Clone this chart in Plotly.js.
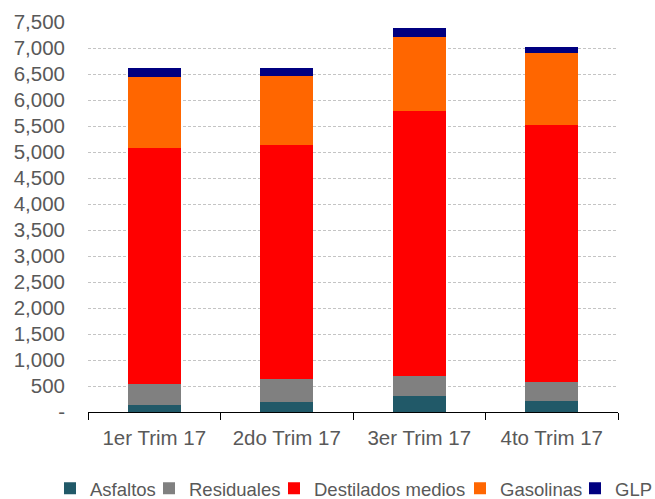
<!DOCTYPE html>
<html>
<head>
<meta charset="utf-8">
<script src="https://cdn.plot.ly/plotly-3.0.1.min.js"></script>
<style>html,body{margin:0;padding:0;background:#fff;}#chart{width:655px;height:499px;}</style>
</head>
<body>
<div id="chart"></div>
<script>
const categories = ["1er Trim 17", "2do Trim 17", "3er Trim 17", "4to Trim 17"];
const asfaltos = [129, 192, 302, 212];
const residuales = [417, 437, 390, 373];
const destilados = [4525, 4500, 5091, 4934];
const gasolinas = [1379, 1340, 1423, 1385];
const glp = [173, 154, 179, 109];
const yTickVals = [0, 500, 1000, 1500, 2000, 2500, 3000, 3500, 4000, 4500, 5000, 5500, 6000, 6500, 7000, 7500];
const yTickText = ["-", "500", "1,000", "1,500", "2,000", "2,500", "3,000", "3,500", "4,000", "4,500", "5,000", "5,500", "6,000", "6,500", "7,000", "7,500"];

const series = [
  {name: "Asfaltos", y: asfaltos, color: "#215968", lw: 54},
  {name: "Residuales", y: residuales, color: "#808080", lw: 80},
  {name: "Destilados medios", y: destilados, color: "#FF0000", lw: 141},
  {name: "Gasolinas", y: gasolinas, color: "#FF6600", lw: 70},
  {name: "GLP", y: glp, color: "#000080", lw: 40}
];

const traces = series.map(s => ({
  type: "bar",
  name: s.name,
  x: categories,
  y: s.y,
  legendwidth: s.lw,
  marker: {color: s.color, line: {width: 0}},
  hoverinfo: "x+y+name"
}));

const layout = {
  width: 655,
  height: 499,
  margin: {l: 88, r: 37, t: 22, b: 87, autoexpand: false},
  barmode: "stack",
  bargap: 0.6,
  paper_bgcolor: "#ffffff",
  plot_bgcolor: "#ffffff",
  font: {family: "Liberation Sans, Arial, sans-serif", size: 19, color: "#595959"},
  showlegend: true,
  legend: {
    orientation: "h",
    x: -0.0717, xanchor: "left",
    y: -0.197, yanchor: "middle",
    traceorder: "normal",
    itemwidth: 30,
    font: {size: 18.5, color: "#595959"}
  },
  xaxis: {
    type: "category",
    showline: true,
    linecolor: "#000000",
    linewidth: 1,
    ticks: "outside",
    tickson: "boundaries",
    ticklen: 7,
    tickcolor: "#000000",
    showgrid: false,
    tickfont: {size: 20.5, color: "#595959"},
    ticklabelstandoff: 7
  },
  yaxis: {
    range: [0, 7500],
    tickvals: yTickVals,
    ticktext: yTickText,
    showline: false,
    zeroline: false,
    showgrid: true,
    gridcolor: "#c4c4c4",
    griddash: "3px,2px",
    gridwidth: 1,
    ticks: "",
    tickfont: {size: 20.5, color: "#595959"},
    ticklabelstandoff: 22
  }
};

Plotly.newPlot("chart", traces, layout, {displayModeBar: false, staticPlot: true});
</script>
</body>
</html>
